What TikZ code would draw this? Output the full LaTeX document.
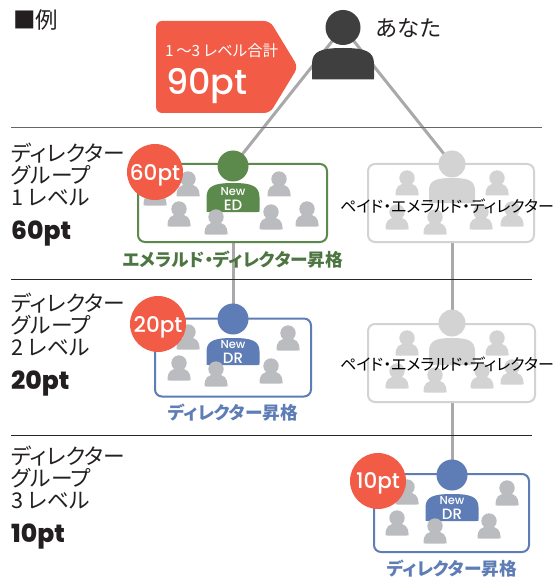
\documentclass[tikz,border=0pt]{standalone}
\usepackage{fontspec}
\setmainfont{Noto Sans CJK JP}[RawFeature=+palt]
\newfontfamily\latf{Poppins Medium}
\newfontfamily\latb{Poppins ExtraBold}
\definecolor{redc}{HTML}{F25C47}
\definecolor{greenc}{HTML}{5B8A4C}
\definecolor{bluec}{HTML}{5E7CB5}
\definecolor{pgray}{HTML}{BBBCBF}
\definecolor{lgray}{HTML}{D3D3D4}
\definecolor{lnc}{HTML}{A9A9AB}
\definecolor{dark}{HTML}{3F3F3F}
\definecolor{inkc}{HTML}{231F20}
\pgfdeclarelayer{bg}
\pgfsetlayers{bg,main}
\tikzset{
  head/.style={circle,fill=#1,inner sep=0pt,minimum size=31pt},
  groupbox/.style={draw=#1,line width=2pt,rounded corners=7pt,fill=white,inner sep=0pt,minimum height=78pt},
  badge/.style={circle,fill=redc,text=white,inner sep=0pt,minimum size=56pt,text depth=0pt,font=\latf\fontsize{21.5}{21.5}\selectfont},
  connector/.style={draw=lnc,line width=3pt},
  rulex/.style={draw=#1,line width=1pt},
  leftlab/.style={anchor=west,inner sep=0pt,text=inkc,font=\fontsize{21.7}{21.7}\selectfont},
  leftpt/.style={anchor=west,inner sep=0pt,text=inkc,text depth=0pt,font=\latb\fontsize{25}{25}\selectfont},
  promo/.style={inner sep=0pt,text=#1,font=\bfseries\fontsize{17.7}{17.7}\selectfont},
  newlab/.style={inner sep=0pt,text=white,font=\latf\fontsize{11.5}{11.5}\selectfont},
  rolelab/.style={inner sep=0pt,text=white,font=\latf\fontsize{15}{15}\selectfont},
  paid/.style={inner sep=0pt,text=black,font=\fontsize{16}{16}\selectfont}
}
% body: cx, top, bottom, half width, colour
\newcommand{\pbody}[5]{%
  \fill[#5] ({#1-#4+2},#3) .. controls ({#1-#4},#3) and ({#1-#4},{#3}) .. ({#1-#4},{#3-2})
    -- ({#1-#4},{#2+(#3-#2)*0.5}) .. controls ({#1-#4},{#2+(#3-#2)*0.1}) and ({#1-#4*0.7},#2) .. (#1,#2)
    .. controls ({#1+#4*0.7},#2) and ({#1+#4},{#2+(#3-#2)*0.1}) .. ({#1+#4},{#2+(#3-#2)*0.5})
    -- ({#1+#4},{#3-2}) .. controls ({#1+#4},#3) and ({#1+#4},#3) .. ({#1+#4-2},#3) -- cycle;}
% small person: x, head y, colour
\newcommand{\sperson}[3]{%
  \fill[#3] (#1,#2) circle (7.7);
  \pbody{#1}{#2+5.7}{#2+17.5}{11.5}{#3}}
\begin{document}
\begin{tikzpicture}[x=1pt,y=-1pt]
\useasboundingbox (0,0) rectangle (555,577);
% title
\node[anchor=west,inner sep=0pt,text=inkc,font=\fontsize{22.5}{22.5}\selectfont] (title) at (13,20) {■例};
% total tag
\fill[redc,rounded corners=6pt] (156,21) -- (270,21) -- (298,67) -- (270,113) -- (156,113) -- cycle;
\node[anchor=west,inner sep=0pt,text=white,font=\fontsize{15.4}{15.4}\selectfont] (sumlab) at (165,51) {1\,〜3 レベル合計};
\node[anchor=west,inner sep=0pt,text=white,text depth=0pt,font=\latf\fontsize{35}{35}\selectfont] (sumpt) at (166,81.5) {90pt};
% you
\node[head=dark,minimum size=35pt] (you) at (343,27.5) {};
\pbody{343}{48}{79.5}{31}{dark}
\node[anchor=west,inner sep=0pt,text=inkc,font=\fontsize{22.3}{22.3}\selectfont] (younm) at (376,28) {あなた};
% rules
\coordinate (r1a) at (11,128); \coordinate (r1b) at (542,128);
\coordinate (r2a) at (11,279); \coordinate (r2b) at (532,279);
\coordinate (r3a) at (11,435); \coordinate (r3b) at (532,435);
\draw[rulex=black!60] (r1a) -- (r1b);
\draw[rulex=black!85] (r2a) -- (r2b);
\draw[rulex=black!85] (r3a) -- (r3b);
% left labels
\node[leftlab] (a1) at (11,153) {ディレクター};
\node[leftlab] (a2) at (11,175) {グループ};
\node[leftlab] (a3) at (11,198) {1 レベル};
\node[leftpt] (a4) at (11,230) {60pt};
\node[leftlab] (b1) at (11,303) {ディレクター};
\node[leftlab] (b2) at (11,325) {グループ};
\node[leftlab] (b3) at (11,348) {2 レベル};
\node[leftpt] (b4) at (11,380) {20pt};
\node[leftlab] (c1) at (11,456) {ディレクター};
\node[leftlab] (c2) at (11,478) {グループ};
\node[leftlab] (c3) at (11,501) {3 レベル};
\node[leftpt] (c4) at (11,533) {10pt};
% group boxes
\node[groupbox=greenc,minimum width=189pt] (box1) at (232.5,203) {};
\node[groupbox=lgray,minimum width=166pt] (box2) at (451,203) {};
\node[groupbox=bluec,minimum width=156pt] (box3) at (233,357.5) {};
\node[groupbox=lgray,minimum width=167pt] (box4) at (451.5,363) {};
\node[groupbox=bluec,minimum width=155pt] (box5) at (451.5,513) {};
% group 1
\pbody{233}{183}{212}{26.5}{greenc}
\node[head=greenc] (h1) at (233,166) {};
\node[newlab] (n1) at (233,192) {New};
\node[rolelab] (e1) at (233,205) {ED};
\sperson{188}{179}{pgray}
\sperson{155}{188}{pgray}
\sperson{279}{179}{pgray}
\sperson{179}{209}{pgray}
\sperson{216}{217}{pgray}
\sperson{271}{212}{pgray}
\sperson{307}{209}{pgray}
\node[badge] (p1) at (155,172) {60pt};
\node[promo=greenc!85!black] (l1) at (233,260) {エメラルド・ディレクター昇格};
% gray 1
\pbody{452}{178}{203}{23}{lgray}
\node[head=lgray,minimum size=27pt] (h2) at (452,164) {};
\sperson{407}{178}{lgray}
\sperson{497}{178}{lgray}
\sperson{397}{212}{lgray}
\sperson{435}{217}{lgray}
\sperson{481}{212}{lgray}
\sperson{512}{209}{lgray}
\node[paid,anchor=west] (t2) at (340,206) {ペイド・エメラルド・ディレクター};
% group 2
\pbody{233}{338}{365}{26.5}{bluec}
\node[head=bluec] (h3) at (233,319) {};
\node[newlab] (n3) at (233,345) {New};
\node[rolelab] (e3) at (233,358) {DR};
\sperson{188}{332}{pgray}
\sperson{288}{333}{pgray}
\sperson{179}{363}{pgray}
\sperson{216}{369}{pgray}
\sperson{271}{366}{pgray}
\node[badge] (p3) at (158,324) {20pt};
\node[promo=bluec] (l3) at (233,413) {ディレクター昇格};
% gray 2
\pbody{452}{338}{365}{23}{lgray}
\node[head=lgray,minimum size=27pt] (h4) at (452,323) {};
\sperson{407}{338}{lgray}
\sperson{497}{338}{lgray}
\sperson{397}{371}{lgray}
\sperson{435}{375}{lgray}
\sperson{482}{371}{lgray}
\sperson{512}{367}{lgray}
\node[paid,anchor=west] (t4) at (340,364) {ペイド・エメラルド・ディレクター};
% group 3
\pbody{452}{494}{521}{26.5}{bluec}
\node[head=bluec] (h5) at (452,475) {};
\node[newlab] (n5) at (452,501) {New};
\node[rolelab] (e5) at (452,514) {DR};
\sperson{407}{487}{pgray}
\sperson{507}{488}{pgray}
\sperson{397}{518}{pgray}
\sperson{435}{526}{pgray}
\sperson{489}{521}{pgray}
\node[badge] (p5) at (378,481) {10pt};
\node[promo=bluec] (l5) at (452,569) {ディレクター昇格};
% connectors
\begin{pgfonlayer}{bg}
\draw[connector] (you.center) -- (h1.center);
\draw[connector] (you.center) -- (h2.center);
\draw[connector] (h1.center) -- (h3.center);
\draw[connector] (h2.center) -- (h4.center);
\draw[connector] (h4.center) -- (h5.center);
\end{pgfonlayer}
\end{tikzpicture}
\end{document}
